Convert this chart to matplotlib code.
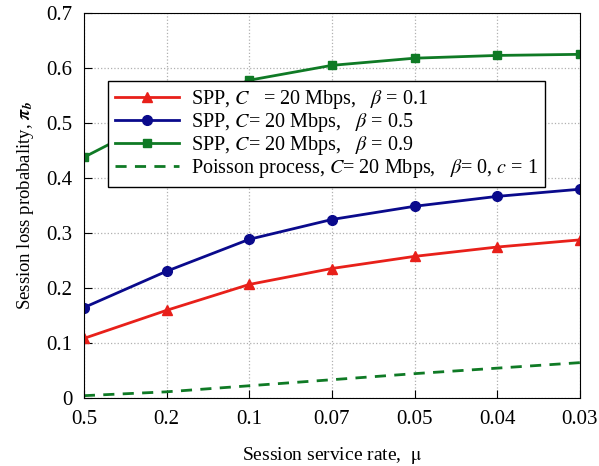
import matplotlib
matplotlib.use('Agg')
import matplotlib.pyplot as plt
import numpy as np

plt.rcParams['font.family'] = 'Liberation Serif'
plt.rcParams['mathtext.fontset'] = 'stix'

# service rates (categorical axis, equally spaced)
mu_labels = ['0.5', '0.2', '0.1', '0.07', '0.05', '0.04', '0.03']

spp_b01 = [0.109, 0.160, 0.207, 0.236, 0.258, 0.275, 0.288]
spp_b05 = [0.165, 0.231, 0.289, 0.325, 0.349, 0.367, 0.380]
spp_b09 = [0.438, 0.515, 0.578, 0.605, 0.618, 0.623, 0.625]
poisson = [0.005, 0.012, 0.023, 0.034, 0.045, 0.055, 0.065]

x = np.arange(len(mu_labels))

fig, ax = plt.subplots(figsize=(5.99, 4.66), dpi=100)
fig.subplots_adjust(left=0.14, right=0.968, top=0.972, bottom=0.145)

ax.plot(x, spp_b01, color='#e8201a', marker='^', markersize=7, lw=2,
        label=r'SPP, $C$   = 20 Mbps,   $\beta$ = 0.1')
ax.plot(x, spp_b05, color='#0a0a8c', marker='o', markersize=7, lw=2,
        label=r'SPP, $C$= 20 Mbps,   $\beta$ = 0.5')
ax.plot(x, spp_b09, color='#0f7a25', marker='s', markersize=6, lw=2,
        label=r'SPP, $C$= 20 Mbps,   $\beta$ = 0.9')
ax.plot(x, poisson, color='#0f7a25', ls=(0, (4, 3)), lw=2,
        label=r'Poisson process, $C$= 20 Mbps,   $\beta$= 0, $c$ = 1')

ax.set_xlim(0, len(mu_labels) - 1)
ax.set_ylim(0, 0.7)
ax.set_xticks(x)
ax.set_xticklabels(mu_labels)
ax.set_yticks(np.arange(0, 0.71, 0.1))
ax.set_yticklabels(['0'] + ['%.1f' % v for v in np.arange(0.1, 0.71, 0.1)])
ax.tick_params(direction='in', labelsize=15, length=6, pad=8)
ax.grid(True, color='#b0b0b0', ls=':', lw=0.9)

ax.set_xlabel(r'Session service rate,  $\mathrm{\mu}$', fontsize=14, labelpad=12)
ax.set_ylabel(r'Session loss probabality, $\boldsymbol{\pi}_{\boldsymbol{b}}$',
              fontsize=13.5, labelpad=8)

leg = ax.legend(loc='upper left', bbox_to_anchor=(0.048, 0.823), fontsize=14.5,
                frameon=True, fancybox=False, edgecolor='black', framealpha=1,
                borderpad=0.35, labelspacing=0.0, handlelength=3.2,
                handletextpad=0.6, borderaxespad=0)
leg.get_frame().set_linewidth(1.0)

plt.savefig('out.png')
